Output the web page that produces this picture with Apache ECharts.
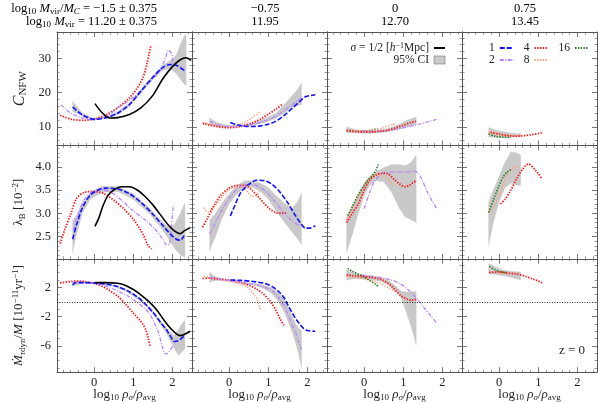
<!DOCTYPE html>
<html>
<head>
<meta charset="utf-8">
<script src="https://cdn.jsdelivr.net/npm/echarts@6/dist/echarts.min.js"></script>
<style>
  html, body { margin: 0; padding: 0; background: #fff; }
  #chart { width: 598px; height: 402px; }
</style>
</head>
<body>
<div id="chart"></div>
<script>
// ---- column headers ----
const colRatio = ['−1.5 ± 0.375', '−0.75', '0', '0.75'];
const colMass = ['11.20 ± 0.375', '11.95', '12.70', '13.45'];

// ---- axis ranges / ticks ----
const xRange = [-0.95, 2.5];
const xMajor = [0, 1, 2];
const xMinor = [-0.8, -0.6, -0.4, -0.2, 0.2, 0.4, 0.6, 0.8, 1.2, 1.4, 1.6, 1.8, 2.2, 2.4];
const cnfwRange = [4.6, 37.7];
const cnfwMajor = [10, 20, 30];
const cnfwMinor = [6, 8, 12, 14, 16, 18, 22, 24, 26, 28, 32, 34, 36];
const spinRange = [2.02, 4.46];
const spinMajor = [2.5, 3.0, 3.5, 4.0];
const spinMinor = [2.1, 2.2, 2.3, 2.4, 2.6, 2.7, 2.8, 2.9, 3.1, 3.2, 3.3, 3.4, 3.6, 3.7, 3.8, 3.9, 4.1, 4.2, 4.3, 4.4];
const mdotRange = [-9.6, 5.9];
const mdotMajor = [2, -2, -6];
const mdotMinor = [-9, -8, -7, -5, -4, -3, -1, 0, 1, 3, 4, 5];

// ---- row 1: concentration ----
const cnfw_c1_half = [[0.02,16.8],[0.2,14.2],[0.4,12.6],[0.6,12.7],[0.9,13.6],[1.2,15.6],[1.5,19.2],[1.75,24],[2.0,27.6],[2.2,29.6],[2.35,30.2],[2.48,29.4]];
const cnfw_c1_s1 = [[-0.55,15.8],[-0.3,13.5],[0,12.2],[0.3,12.7],[0.6,14],[0.9,16.5],[1.2,20.5],[1.5,24.5],[1.75,27.3],[1.95,28.2],[2.1,28],[2.3,26.5]];
const cnfw_c1_s2 = [[-0.85,16.5],[-0.6,14],[-0.3,12.6],[0,12.2],[0.3,13],[0.6,15.5],[0.9,17.8],[1.2,20.6],[1.5,24],[1.7,26.8],[1.82,30],[1.9,32.4],[1.97,31.5],[2.03,28]];
const cnfw_c1_s4 = [[-0.87,13.4],[-0.6,12.3],[-0.3,11.9],[0,12.3],[0.3,13.5],[0.6,15.6],[0.9,18.5],[1.1,21.3],[1.25,24.5],[1.35,28.5],[1.45,33.8]];
const cnfw_c1_band = [[-0.55,14.5,17.5],[-0.3,13,14],[0,12,12.5],[0.3,12.4,13],[0.6,13.6,14.4],[0.9,16,17],[1.2,20,21],[1.5,24,25],[1.75,26.5,28],[1.95,27,29.5],[2.1,25.5,31],[2.2,24,34],[2.3,22.5,36.5],[2.35,22,37]];

const cnfw_c2_s1 = [[0.03,11.3],[0.2,10.6],[0.4,10.2],[0.6,10.1],[0.8,10.3],[1.0,10.8],[1.2,11.7],[1.4,13.3],[1.6,15.3],[1.8,17.4],[1.95,18.8],[2.1,19.2],[2.2,19.4]];
const cnfw_c2_s2 = [[-0.5,11.6],[-0.3,10.7],[0,10.1],[0.3,10.2],[0.6,10.8],[0.9,11.7],[1.2,13.2],[1.5,15.5],[1.7,17.2],[1.85,18.5]];
const cnfw_c2_s4 = [[-0.68,11],[-0.4,10.3],[-0.2,9.9],[0,9.8],[0.2,10],[0.4,10.5],[0.6,11.2],[0.8,12.3],[1.0,13.7],[1.2,15.2],[1.38,16.8]];
const cnfw_c2_s8 = [[-0.65,11.3],[-0.4,10.5],[-0.1,10],[0.1,10.2],[0.3,10.8],[0.5,12],[0.65,13.2],[0.8,14.5]];
const cnfw_c2_band = [[-0.5,10.6,12.6],[-0.3,10,11.2],[0,9.8,10.4],[0.3,9.9,10.5],[0.6,10.4,11.2],[0.9,11.2,12.4],[1.2,12.5,14],[1.4,14,16.5],[1.6,15.5,19],[1.75,16.3,21],[1.85,16.5,22.8]];

const cnfw_c3_s2 = [[-0.05,8.9],[0.2,8.7],[0.5,8.8],[0.8,9.3],[1.1,10],[1.4,10.8],[1.6,11.4],[1.85,12.2]];
const cnfw_c3_s4 = [[-0.45,8.9],[-0.2,8.6],[0,8.5],[0.2,8.5],[0.4,8.7],[0.6,9],[0.8,9.7],[1.0,10.5],[1.2,11.3],[1.33,11.6]];
const cnfw_c3_s8 = [[-0.45,9.2],[-0.1,8.9],[0.2,9],[0.45,9.6],[0.7,10.6],[0.8,11]];
const cnfw_c3_s16 = [[-0.45,9],[-0.2,8.8],[0,8.8],[0.2,9.1],[0.35,9.4]];
const cnfw_c3_band = [[-0.45,8.3,10],[-0.2,8.2,9.2],[0,8.1,9],[0.3,8.2,9],[0.6,8.6,9.6],[0.9,9.3,10.8],[1.1,10,12],[1.33,10.7,12.9]];

const cnfw_c4_s4 = [[-0.22,8.4],[0,7.9],[0.2,7.5],[0.4,7.3],[0.6,7.4],[0.8,7.7],[1.0,8.1],[1.1,8.4]];
const cnfw_c4_s8 = [[-0.27,8.5],[0,7.8],[0.3,7.4],[0.55,7.5]];
const cnfw_c4_s16 = [[-0.27,7.9],[-0.1,7.3],[0.1,7.0],[0.3,7.0]];
const cnfw_c4_band = [[-0.27,7,9.8],[0,6.9,8.8],[0.3,6.9,8.2],[0.55,7.1,8]];

// ---- row 2: spin ----
const spin_c1_half = [[0.02,2.72],[0.12,2.9],[0.22,3.15],[0.35,3.38],[0.5,3.5],[0.7,3.57],[0.9,3.57],[1.1,3.5],[1.3,3.36],[1.5,3.18],[1.7,2.96],[1.9,2.74],[2.05,2.62],[2.2,2.56],[2.3,2.62],[2.45,2.69]];
const spin_c1_s1 = [[-0.55,2.44],[-0.45,2.75],[-0.3,3.12],[-0.1,3.39],[0.1,3.5],[0.3,3.54],[0.6,3.52],[0.9,3.42],[1.2,3.23],[1.5,2.98],[1.75,2.74],[1.95,2.55],[2.1,2.44],[2.2,2.42],[2.3,2.52]];
const spin_c1_s2 = [[-0.53,2.64],[-0.4,3.0],[-0.25,3.3],[0,3.48],[0.2,3.5],[0.45,3.44],[0.7,3.28],[1.0,3.05],[1.3,2.86],[1.55,2.66],[1.75,2.45],[1.85,2.32],[1.92,2.33],[1.97,2.7],[2.02,3.17]];
const spin_c1_s4 = [[-0.87,2.35],[-0.75,2.65],[-0.6,2.98],[-0.45,3.32],[-0.25,3.45],[0,3.47],[0.25,3.42],[0.5,3.28],[0.75,3.1],[1.0,2.87],[1.2,2.62],[1.3,2.45],[1.38,2.3],[1.47,2.23]];
const spin_c1_band = [[-0.55,2.15,2.85],[-0.45,2.55,2.95],[-0.3,3.0,3.22],[-0.1,3.3,3.45],[0.2,3.45,3.58],[0.6,3.47,3.58],[1.0,3.3,3.42],[1.4,3.0,3.12],[1.7,2.7,2.85],[1.9,2.45,2.7],[2.05,2.25,2.75],[2.2,2.1,3.0],[2.32,2.05,3.22]];

const spin_c2_s1 = [[0.03,2.94],[0.15,3.18],[0.3,3.45],[0.5,3.62],[0.7,3.71],[0.9,3.7],[1.1,3.62],[1.3,3.45],[1.5,3.22],[1.7,2.94],[1.85,2.76],[1.95,2.68],[2.05,2.68],[2.2,2.73]];
const spin_c2_s2 = [[-0.5,2.55],[-0.35,2.8],[-0.2,3.05],[0,3.32],[0.2,3.52],[0.4,3.62],[0.6,3.62],[0.8,3.55],[1.0,3.42],[1.2,3.22],[1.4,3.02],[1.6,2.84],[1.75,2.76],[1.85,2.74]];
const spin_c2_s4 = [[-0.68,2.7],[-0.55,2.9],[-0.4,3.15],[-0.2,3.4],[0,3.54],[0.2,3.6],[0.4,3.6],[0.6,3.48],[0.8,3.3],[1.0,3.12],[1.2,3.01],[1.35,3.0],[1.47,3.01]];
const spin_c2_s8 = [[-0.65,3.12],[-0.55,3.03],[-0.45,3.08],[-0.3,3.22],[-0.1,3.42],[0.1,3.55],[0.3,3.56],[0.45,3.48],[0.6,3.36],[0.7,3.38],[0.78,3.47]];
const spin_c2_band = [[-0.5,2.2,2.85],[-0.35,2.5,3.0],[-0.2,2.85,3.2],[0,3.2,3.42],[0.2,3.42,3.6],[0.4,3.55,3.7],[0.6,3.56,3.7],[0.8,3.47,3.65],[1.0,3.3,3.55],[1.2,3.05,3.38],[1.4,2.82,3.22],[1.6,2.6,3.1],[1.75,2.45,3.25],[1.85,2.32,3.43]];

const spin_c3_s2 = [[0,3.1],[0.1,3.35],[0.2,3.58],[0.35,3.78],[0.5,3.87],[0.7,3.89],[0.9,3.89],[1.1,3.89],[1.3,3.9],[1.4,3.84],[1.5,3.68],[1.6,3.48],[1.7,3.32],[1.85,3.1]];
const spin_c3_s4 = [[-0.45,2.8],[-0.3,3.0],[-0.15,3.2],[0,3.5],[0.15,3.72],[0.3,3.82],[0.45,3.86],[0.6,3.85],[0.75,3.74],[0.9,3.63],[1.05,3.57],[1.15,3.6],[1.25,3.66],[1.33,3.7]];
const spin_c3_s8 = [[-0.45,2.85],[-0.3,3.1],[-0.1,3.45],[0.1,3.7],[0.3,3.82],[0.5,3.8],[0.65,3.68],[0.75,3.6]];
const spin_c3_s16 = [[-0.42,2.95],[-0.3,3.15],[-0.15,3.4],[0,3.6],[0.1,3.72],[0.2,3.8],[0.3,3.92],[0.36,4.05]];
const spin_c3_band = [[-0.45,2.15,2.92],[-0.3,2.55,3.15],[-0.15,3.0,3.4],[0,3.38,3.65],[0.15,3.6,3.8],[0.3,3.7,3.9],[0.5,3.68,3.98],[0.7,3.45,4.05],[0.9,3.1,4.05],[1.05,2.92,4.02],[1.2,2.86,4.1],[1.33,2.8,4.25]];

const spin_c4_s4 = [[0.03,3.2],[0.15,3.3],[0.3,3.5],[0.45,3.75],[0.6,3.95],[0.75,4.06],[0.9,3.95],[1.0,3.85],[1.1,3.73]];
const spin_c4_s8 = [[-0.27,3.0],[-0.1,3.22],[0.05,3.5],[0.2,3.8],[0.35,3.98],[0.45,4.0],[0.52,3.96]];
const spin_c4_s16 = [[-0.27,3.02],[-0.15,3.28],[0,3.6],[0.1,3.78],[0.2,3.88],[0.3,3.94]];
const spin_c4_band = [[-0.27,2.3,3.25],[-0.15,2.8,3.5],[0,3.25,3.8],[0.15,3.55,4.1],[0.3,3.65,4.32],[0.45,3.6,4.3],[0.55,3.6,4.25]];

// ---- row 3: accretion rate ----
const mdot_c1_half = [[0.02,2.65],[0.3,2.65],[0.6,2.55],[0.8,2.25],[1.0,1.7],[1.2,0.95],[1.4,0.05],[1.6,-1.1],[1.8,-2.6],[1.95,-3.6],[2.1,-4.35],[2.2,-4.6],[2.3,-4.45],[2.45,-4.0]];
const mdot_c1_s1 = [[-0.55,2.3],[-0.5,2.6],[-0.3,2.65],[0,2.6],[0.3,2.45],[0.6,2.1],[0.9,1.4],[1.1,0.7],[1.3,-0.25],[1.5,-1.4],[1.7,-2.8],[1.85,-3.8],[1.95,-4.7],[2.05,-5.4],[2.15,-5.3],[2.25,-4.9],[2.32,-4.5]];
const mdot_c1_s2 = [[-0.55,2.7],[-0.3,2.65],[0,2.5],[0.3,2.15],[0.6,1.5],[0.9,0.7],[1.1,-0.05],[1.3,-0.9],[1.45,-1.9],[1.55,-3.0],[1.65,-4.3],[1.75,-6.3],[1.82,-7.1],[1.88,-7.0],[1.95,-6.5],[2.02,-6.0]];
const mdot_c1_s4 = [[-0.87,2.6],[-0.6,2.8],[-0.4,2.85],[-0.2,2.75],[0,2.55],[0.2,2.15],[0.4,1.55],[0.6,0.8],[0.8,-0.3],[1.0,-1.5],[1.15,-2.4],[1.25,-3.1],[1.32,-3.8],[1.38,-4.9],[1.43,-6.1]];
const mdot_c1_band = [[-0.55,2.2,2.8],[-0.3,2.5,2.8],[0,2.5,2.7],[0.4,2.3,2.5],[0.8,1.5,1.8],[1.2,0.05,0.45],[1.5,-1.6,-1.2],[1.7,-3.1,-2.6],[1.85,-4.3,-3.6],[1.95,-5.3,-4.2],[2.05,-6.4,-4.6],[2.15,-7.3,-3.8],[2.25,-6.8,-2.9],[2.32,-6.4,-2.5]];

const mdot_c2_s1 = [[0.03,3.0],[0.3,2.95],[0.6,2.8],[0.9,2.55],[1.1,2.1],[1.25,1.5],[1.4,0.6],[1.5,-0.4],[1.6,-1.4],[1.7,-2.3],[1.8,-3.0],[1.9,-3.6],[2.0,-3.9],[2.2,-4.0]];
const mdot_c2_s2 = [[-0.5,3.35],[-0.2,3.1],[0.1,2.85],[0.4,2.6],[0.7,2.35],[0.9,2.05],[1.1,1.5],[1.25,0.7],[1.4,-0.5],[1.5,-1.7],[1.6,-3.0],[1.7,-4.2],[1.78,-5.5],[1.85,-6.5]];
const mdot_c2_s4 = [[-0.68,3.2],[-0.5,3.25],[-0.3,3.15],[-0.1,3.05],[0.1,2.9],[0.3,2.65],[0.5,2.3],[0.7,1.75],[0.85,1.2],[1.0,0.4],[1.1,-0.3],[1.2,-1.2],[1.3,-2.3],[1.4,-3.2]];
const mdot_c2_s8 = [[-0.65,3.5],[-0.4,3.2],[-0.1,2.9],[0.1,2.7],[0.3,2.4],[0.45,2.1],[0.55,1.6],[0.65,0.9],[0.72,0.3],[0.8,-1.0]];
const mdot_c2_band = [[-0.5,2.6,4.1],[-0.4,2.9,3.6],[-0.2,2.95,3.2],[0.1,2.75,2.95],[0.4,2.5,2.7],[0.7,2.2,2.5],[0.9,1.8,2.3],[1.1,1.1,1.9],[1.25,0.1,1.3],[1.4,-1.3,0.5],[1.5,-2.6,-0.6],[1.6,-4.0,-1.8],[1.7,-5.6,-3.0],[1.78,-7.3,-3.6],[1.85,-9.0,-3.9]];

const mdot_c3_s2 = [[-0.05,3.65],[0.2,3.5],[0.45,3.3],[0.7,3.0],[0.9,2.55],[1.1,1.8],[1.25,1.05],[1.4,0.1],[1.55,-0.9],[1.7,-1.9],[1.85,-2.85]];
const mdot_c3_s4 = [[-0.45,3.7],[-0.2,3.55],[0,3.45],[0.2,3.35],[0.35,3.2],[0.5,2.9],[0.65,2.4],[0.8,1.6],[0.95,0.8],[1.1,0.4],[1.2,0.25],[1.33,0.35]];
const mdot_c3_s8 = [[-0.45,3.5],[-0.2,3.3],[0,3.15],[0.2,2.9],[0.4,2.55],[0.55,2.15],[0.7,1.7],[0.8,1.4]];
const mdot_c3_s16 = [[-0.42,4.6],[-0.3,4.2],[-0.15,3.8],[0,3.4],[0.15,2.9],[0.3,2.4],[0.36,2.1]];
const mdot_c3_band = [[-0.45,3.0,4.4],[-0.2,3.2,3.9],[0,3.1,3.7],[0.2,3.0,3.55],[0.4,2.85,3.4],[0.6,2.35,3.0],[0.8,1.5,2.2],[0.95,0.5,1.45],[1.05,-1.0,1.4],[1.15,-2.6,1.4],[1.25,-4.3,1.4],[1.33,-5.9,1.45]];

const mdot_c4_s4 = [[-0.25,4.0],[0,4.1],[0.2,3.95],[0.4,3.85],[0.55,3.7],[0.7,3.45],[0.85,3.15],[1.0,2.85],[1.1,2.6]];
const mdot_c4_s8 = [[-0.25,4.2],[0,4.0],[0.25,3.9],[0.5,3.95]];
const mdot_c4_s16 = [[-0.25,4.85],[-0.1,4.4],[0.05,4.1],[0.2,4.0]];
const mdot_c4_band = [[-0.27,3.9,5.3],[-0.1,3.75,4.8],[0.1,3.6,4.35],[0.3,3.35,4.2],[0.55,3.0,4.1]];

// ---- panels ----
const panels = [
  { r: 0, c: 0, band: cnfw_c1_band, lines: { s4: cnfw_c1_s4, s2: cnfw_c1_s2, s1: cnfw_c1_s1, half: cnfw_c1_half } },
  { r: 0, c: 1, band: cnfw_c2_band, lines: { s8: cnfw_c2_s8, s4: cnfw_c2_s4, s2: cnfw_c2_s2, s1: cnfw_c2_s1 } },
  { r: 0, c: 2, band: cnfw_c3_band, lines: { s16: cnfw_c3_s16, s8: cnfw_c3_s8, s2: cnfw_c3_s2, s4: cnfw_c3_s4 } },
  { r: 0, c: 3, band: cnfw_c4_band, lines: { s16: cnfw_c4_s16, s8: cnfw_c4_s8, s4: cnfw_c4_s4 } },
  { r: 1, c: 0, band: spin_c1_band, lines: { s4: spin_c1_s4, s2: spin_c1_s2, s1: spin_c1_s1, half: spin_c1_half } },
  { r: 1, c: 1, band: spin_c2_band, lines: { s8: spin_c2_s8, s4: spin_c2_s4, s2: spin_c2_s2, s1: spin_c2_s1 } },
  { r: 1, c: 2, band: spin_c3_band, lines: { s2: spin_c3_s2, s8: spin_c3_s8, s4: spin_c3_s4, s16: spin_c3_s16 } },
  { r: 1, c: 3, band: spin_c4_band, lines: { s8: spin_c4_s8, s16: spin_c4_s16, s4: spin_c4_s4 } },
  { r: 2, c: 0, band: mdot_c1_band, lines: { s4: mdot_c1_s4, s2: mdot_c1_s2, s1: mdot_c1_s1, half: mdot_c1_half } },
  { r: 2, c: 1, band: mdot_c2_band, lines: { s8: mdot_c2_s8, s4: mdot_c2_s4, s2: mdot_c2_s2, s1: mdot_c2_s1 } },
  { r: 2, c: 2, band: mdot_c3_band, lines: { s2: mdot_c3_s2, s8: mdot_c3_s8, s16: mdot_c3_s16, s4: mdot_c3_s4 } },
  { r: 2, c: 3, band: mdot_c4_band, lines: { s8: mdot_c4_s8, s16: mdot_c4_s16, s4: mdot_c4_s4 } },
];

const FONT = '"Liberation Serif", "DejaVu Serif", serif';
const INK = '#222';
const AX = '#555';
const BAND = '#c9c9c9';

const styles = {
  half: { name: 'σ = 1/2', color: '#000000', width: 1.6, type: 'solid' },
  s1:   { name: '1',  color: '#1010ff', width: 1.6, type: [5, 2] },
  s2:   { name: '2',  color: '#b884ff', width: 1.3, type: [4, 1.5, 1, 1.5] },
  s4:   { name: '4',  color: '#ff1a1a', width: 1.8, type: [1.4, 1.4] },
  s8:   { name: '8',  color: '#ffa07a', width: 1.4, type: [1.4, 1.4] },
  s16:  { name: '16', color: '#1f7a1f', width: 1.6, type: [1.4, 1.4] },
};

function rich(size, lh) {
  const sub = Math.round(size * 0.68);
  const base = { fontFamily: FONT, color: INK };
  lh = lh || size + 3;
  return {
    n:  { ...base, fontSize: size, lineHeight: lh },
    i:  { ...base, fontSize: size, lineHeight: lh, fontStyle: 'italic' },
    s:  { ...base, fontSize: sub, lineHeight: sub + 1, verticalAlign: 'bottom' },
    si: { ...base, fontSize: sub, lineHeight: sub + 1, verticalAlign: 'bottom', fontStyle: 'italic' },
    p:  { ...base, fontSize: sub, lineHeight: sub + 1, verticalAlign: 'top' },
  };
}

const colLeft = [57, 192, 327, 462];
const rowTop = [32, 145.4, 258.8];
const rowRange = [cnfwRange, spinRange, mdotRange];
const rowMajor = [cnfwMajor, spinMajor, mdotMajor];
const rowMinor = [cnfwMinor, spinMinor, mdotMinor];
const rowFmt = [v => String(v), v => v.toFixed(1), v => String(v)];
const rowName = [
  '{i|C}{s|NFW}',
  '{n|λ}{s|B} {n|[10}{p|−2}{n|]}',
  '{i|Ṁ}{si|τ}{s|dyn}{n|/}{i|M} {n|[10}{p|−11}{n|yr}{p|−1}{n|]}',
];
const rowNameSize = [16, 13, 13];
const rowNameGap = [28, 30, 30];
const xName = '{n|log}{s|10} {i|ρ}{si|σ}{n|/}{i|ρ}{s|avg}';

const grids = [], xAxes = [], yAxes = [], series = [];

function axisSet(dim, gi, range, major, minor, showLabel, fmt, name, nameGap, nameSize) {
  const sides = dim === 'x' ? ['bottom', 'top'] : ['left', 'right'];
  const out = [];
  sides.forEach((pos, k) => {
    out.push({
      type: 'value', gridIndex: gi, position: pos, min: range[0], max: range[1],
      splitLine: { show: false },
      axisLine: { show: true, onZero: false, lineStyle: { color: AX, width: 1 } },
      axisTick: { show: true, inside: true, length: 5, customValues: major, lineStyle: { color: AX, width: 0.8 } },
      axisLabel: {
        show: k === 0 && showLabel, customValues: major, formatter: fmt,
        margin: dim === 'x' ? 4 : 6, fontFamily: FONT, fontSize: 12.5, color: INK,
      },
      name: k === 0 && name ? name : '',
      nameLocation: 'middle', nameGap: nameGap, nameRotate: dim === 'y' ? 90 : 0,
      nameMoveOverlap: false,
      nameTextStyle: { rich: rich(nameSize || 13) },
      silent: true,
    });
    out.push({
      type: 'value', gridIndex: gi, position: pos, min: range[0], max: range[1],
      splitLine: { show: false },
      axisLine: { show: false, onZero: false },
      axisTick: { show: true, inside: true, length: 2.5, customValues: minor, lineStyle: { color: AX, width: 0.6 } },
      axisLabel: { show: false },
      silent: true,
    });
  });
  return out;
}

panels.forEach(p => {
  const gi = grids.length;
  grids.push({ left: colLeft[p.c], top: rowTop[p.r], width: 135, height: 113.4, outerBoundsMode: 'none' });
  xAxes.push(...axisSet('x', gi, xRange, xMajor, xMinor, p.r === 2, v => String(v),
    p.r === 2 ? xName : '', 14, 13));
  yAxes.push(...axisSet('y', gi, rowRange[p.r], rowMajor[p.r], rowMinor[p.r], p.c === 0, rowFmt[p.r],
    p.c === 0 ? rowName[p.r] : '', rowNameGap[p.r], rowNameSize[p.r]));

  const band = p.band;
  series.push({
    type: 'custom', name: '95% CI', xAxisIndex: gi * 4, yAxisIndex: gi * 4,
    z: 1, silent: true, clip: true,
    itemStyle: { color: BAND },
    encode: { x: 0, y: [1, 2] },
    data: band,
    renderItem(params, api) {
      if (params.dataIndex !== 0) return null;
      const upper = band.map(d => api.coord([d[0], d[2]]));
      const lower = band.map(d => api.coord([d[0], d[1]])).reverse();
      return { type: 'polygon', shape: { points: upper.concat(lower) }, style: { fill: BAND, stroke: BAND, lineWidth: 0.3 } };
    },
  });

  Object.keys(p.lines).forEach(key => {
    const st = styles[key];
    const s = {
      type: 'line', name: st.name, xAxisIndex: gi * 4, yAxisIndex: gi * 4,
      data: p.lines[key], showSymbol: false, symbol: 'none', smooth: 0.3,
      z: key === 'half' ? 4 : 3, silent: true, clip: true,
      lineStyle: { color: st.color, width: st.width, type: st.type },
      itemStyle: { color: st.color },
    };
    if (p.r === 2 && key === 's4') {
      s.markLine = {
        silent: true, symbol: ['none', 'none'], label: { show: false },
        lineStyle: { color: '#000', type: [1, 1.5], width: 0.8 },
        data: [{ yAxis: 0 }],
      };
    }
    series.push(s);
  });
});

const titleRich = rich(12.5, 14);
const graphics = [
  { type: 'text', x: 157, y: 9, style: { text: '{n|log}{s|10} {i|M}{s|vir}{n|/}{i|M}{si|C}{n| = ' + colRatio[0] + '}', align: 'right', verticalAlign: 'middle', rich: titleRich } },
  { type: 'text', x: 157, y: 22, style: { text: '{n|log}{s|10} {i|M}{s|vir}{n| = ' + colMass[0] + '}', align: 'right', verticalAlign: 'middle', rich: titleRich } },
];
[265, 395, 525].forEach((cx, k) => {
  graphics.push({ type: 'text', x: cx, y: 9, style: { text: '{n|' + colRatio[k + 1] + '}', align: 'center', verticalAlign: 'middle', rich: titleRich } });
  graphics.push({ type: 'text', x: cx, y: 22, style: { text: '{n|' + colMass[k + 1] + '}', align: 'center', verticalAlign: 'middle', rich: titleRich } });
});
graphics.push({ type: 'text', x: 572, y: 351, style: { text: 'z = 0', align: 'center', verticalAlign: 'middle', fontFamily: FONT, fontSize: 13, fill: INK } });

const legendText = { fontFamily: FONT, fontSize: 11.5, color: INK, rich: rich(11.5, 12) };
const legendCommon = {
  selectedMode: false, padding: 0, width: 140, align: 'right',
  itemStyle: { opacity: 0 },
  textStyle: legendText,
};
const option = {
  animation: false,
  backgroundColor: '#fff',
  grid: grids,
  xAxis: xAxes,
  yAxis: yAxes,
  series: series,
  graphic: graphics,
  legend: [
    {
      ...legendCommon,
      right: 152, top: 42, orient: 'vertical', width: undefined,
      itemWidth: 11, itemHeight: 8, itemGap: 0,
      data: [
        { name: 'σ = 1/2' },
        { name: '95% CI', icon: 'rect', itemStyle: { color: BAND, borderColor: '#777', borderWidth: 0.6, opacity: 1 } },
      ],
      formatter: name => name === 'σ = 1/2' ? '{i|σ}{n| = 1/2 [}{i|h}{p|−1}{n|Mpc]}' : '{n|' + name + '}',
    },
    {
      ...legendCommon,
      left: 489, top: 42, orient: 'horizontal',
      itemWidth: 14, itemHeight: 8, itemGap: 9,
      data: ['1', '4', '16'],
      formatter: name => '{n|' + name + '}',
    },
    {
      ...legendCommon,
      left: 489, top: 54, orient: 'horizontal',
      itemWidth: 14, itemHeight: 8, itemGap: 9,
      data: ['2', '8'],
      formatter: name => '{n|' + name + '}',
    },
  ],
};

const chart = echarts.init(document.getElementById('chart'), null, { renderer: 'canvas' });
chart.setOption(option);
window.addEventListener('resize', () => chart.resize());
</script>
</body>
</html>
